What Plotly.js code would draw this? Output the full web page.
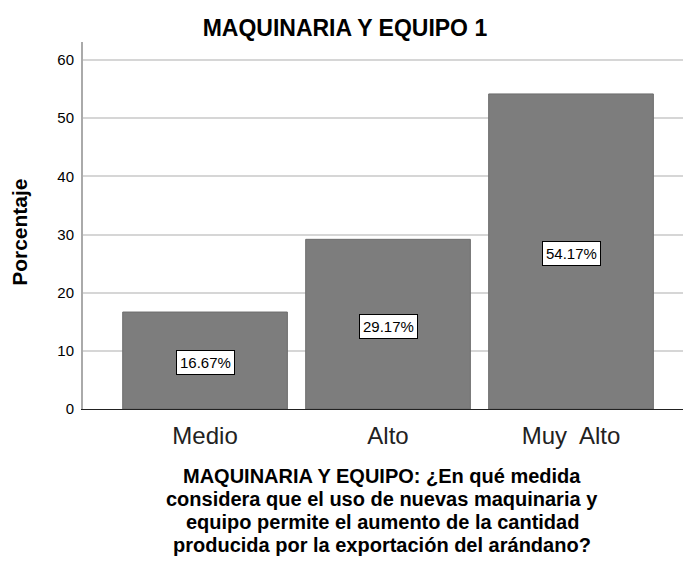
<!DOCTYPE html>
<html>
<head>
<meta charset="utf-8">
<script src="https://cdn.plot.ly/plotly-3.0.1.min.js"></script>
<style>
  body { margin: 0; background: #fff; }
  #chart { width: 683px; height: 564px; }
</style>
</head>
<body>
<div id="chart"></div>
<script>
const categories = ['Medio', 'Alto', 'Muy  Alto'];
const percentages = [16.67, 29.17, 54.17];
const valueLabels = ['16.67%', '29.17%', '54.17%'];
const xTitleLines = [
    'MAQUINARIA Y EQUIPO: ¿En qué medida',
    'considera que el uso de nuevas maquinaria y',
    'equipo permite el aumento de la cantidad',
    'producida por la exportación del arándano?'
];

const font = 'Arial, "Liberation Sans", sans-serif';

const trace = {
    x: categories,
    y: percentages,
    type: 'bar',
    width: 0.9,
    marker: { color: '#7d7d7d', line: { color: '#6e6e6e', width: 1 } },
    hoverinfo: 'none'
};

// label boxes sit at half bar height
const labels = categories.map((c, i) => ({
    x: c,
    y: percentages[i] / 2,
    yshift: -2,
    text: valueLabels[i],
    showarrow: false,
    bgcolor: '#ffffff',
    bordercolor: '#000000',
    borderwidth: 1,
    borderpad: 3,
    font: { family: font, size: 15, color: '#000' }
}));

// the x title is set line by line, its lines sit closer than plotly's line height
const titleLines = xTitleLines.map((t, i) => ({
    xref: 'paper', yref: 'paper',
    x: 0.499, y: -0.1826 - i * 0.0627,
    xanchor: 'center', yanchor: 'middle',
    text: '<b>' + t + '</b>',
    showarrow: false,
    font: { family: font, size: 20, color: '#000' }
}));

const yTitle = {
    xref: 'paper', yref: 'paper',
    x: -0.105, y: 0.48,
    xanchor: 'center', yanchor: 'middle',
    textangle: -90,
    text: '<b>Porcentaje</b>',
    showarrow: false,
    font: { family: font, size: 21, color: '#000' }
};

const layout = {
    width: 683,
    height: 564,
    margin: { l: 83, r: 0, t: 42, b: 155 },
    paper_bgcolor: '#ffffff',
    plot_bgcolor: '#ffffff',
    showlegend: false,
    title: {
        text: '<b>MAQUINARIA Y EQUIPO 1</b>',
        font: { family: font, size: 23, color: '#000' },
        x: 0.505, xanchor: 'center', y: 0.95, yanchor: 'middle'
    },
    xaxis: {
        type: 'category',
        range: [-0.667, 2.612],
        showline: true,
        linecolor: '#222',
        linewidth: 1,
        ticks: '',
        ticklabelstandoff: 5,
        tickfont: { family: font, size: 24, color: '#222' }
    },
    yaxis: {
        range: [0, 63.1],
        tickvals: [0, 10, 20, 30, 40, 50, 60],
        showline: true,
        linecolor: '#aaa',
        linewidth: 2,
        showgrid: true,
        gridcolor: '#d6d6d6',
        gridwidth: 2,
        zeroline: false,
        ticks: '',
        ticklabelstandoff: 4,
        tickfont: { family: font, size: 15, color: '#000' }
    },
    annotations: labels.concat(titleLines, [yTitle])
};

Plotly.newPlot('chart', [trace], layout, { staticPlot: true, displayModeBar: false });
</script>
</body>
</html>
